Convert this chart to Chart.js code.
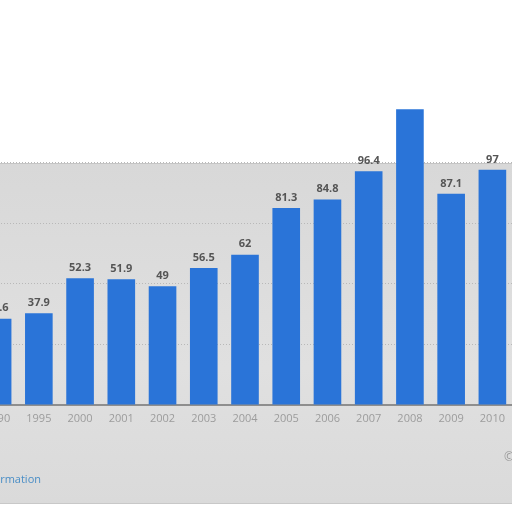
<!DOCTYPE html>
<html><head><meta charset="utf-8">
<script src="https://cdn.jsdelivr.net/npm/chart.js@4"></script>
<style>
html,body{margin:0;padding:0;width:512px;height:512px;overflow:hidden;background:#fff;position:relative;font-family:"Open Sans",sans-serif}
#band{position:absolute;left:0;top:163px;width:512px;height:339px;background:linear-gradient(#d8d8d8,#e0e0e0 60%,#dadada);border-top:1px solid #c4c4c4;border-bottom:1px solid #c8c8c8}
#c{position:absolute;left:-23px;top:0}
#info{position:absolute;right:471px;top:471px;white-space:nowrap;color:#4a8ec6;font-size:11px}
#copy{position:absolute;left:504px;top:448px;color:#9a9a9a;font-size:12px}
</style></head><body>
<div id="band"></div>
<canvas id="c" width="560" height="512"></canvas>
<div id="info">Additional Information</div>
<div id="copy">©</div>
<script>
const years = ["1990","1995","2000","2001","2002","2003","2004","2005","2006","2007","2008","2009","2010"];
const values = [35.6, 37.9, 52.3, 51.9, 49, 56.5, 62, 81.3, 84.8, 96.4, 122, 87.1, 97];
const valueLabels = ["35.6","37.9","52.3","51.9","49","56.5","62","81.3","84.8","96.4","","87.1","97"];
const yTicks = [0, 25, 50, 75, 100, 125];

const labelPlugin = {
  id: 'valueLabels',
  afterDatasetsDraw(chart) {
    const ctx = chart.ctx;
    const meta = chart.getDatasetMeta(0);
    ctx.save();
    ctx.font = 'bold 11px "Open Sans", sans-serif';
    ctx.fillStyle = '#555555';
    ctx.textAlign = 'center';
    ctx.textBaseline = 'bottom';
    meta.data.forEach((bar, i) => {
      if (valueLabels[i]) ctx.fillText(valueLabels[i], bar.x, bar.y - 5);
    });
    ctx.restore();
  }
};

new Chart(document.getElementById('c'), {
  type: 'bar',
  data: {
    labels: years,
    datasets: [{
      data: values,
      backgroundColor: '#2a74d8',
      barPercentage: 0.67,
      categoryPercentage: 1.0,
      borderWidth: 0
    }]
  },
  options: {
    responsive: false,
    animation: false,
    devicePixelRatio: 1,
    layout: { padding: { top: 102, bottom: 77, left: 0, right: 24 } },
    plugins: { legend: { display: false }, tooltip: { enabled: false } },
    scales: {
      x: {
        grid: { display: false, drawTicks: false },
        border: { display: true, color: '#8e8e8e', width: 2 },
        ticks: { color: '#9c9c9c', font: { size: 11, family: '"Open Sans", sans-serif' }, padding: 7, maxRotation: 0, autoSkip: false },
        afterFit(axis) { axis.height = 30; }
      },
      y: {
        min: 0,
        max: 125,
        afterBuildTicks(axis) { axis.ticks = yTicks.map(v => ({ value: v })); },
        ticks: { display: false },
        grid: {
          drawTicks: false,
          color: ctx => (ctx.tick && (ctx.tick.value === 0 || ctx.tick.value === 125)) ? 'rgba(0,0,0,0)' : '#b8b8b8',
          lineWidth: 1
        },
        border: { display: false, dash: [1, 2] },
        afterFit(axis) { axis.width = 0; }
      }
    }
  },
  plugins: [labelPlugin]
});
</script>
</body></html>
